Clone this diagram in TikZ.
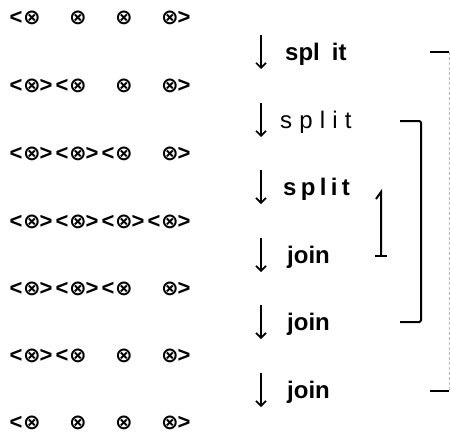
\documentclass[tikz,border=0pt]{standalone}
\usepackage{fontspec}
\setmainfont{Liberation Sans}
\newfontfamily\symfont{DejaVu Sans}
\usetikzlibrary{arrows.meta}

\begin{document}
\begin{tikzpicture}[x=1pt, y=-1pt,
term/.style={inner sep=0pt, font=\symfont\bfseries\fontsize{21}{21}\selectfont},
brk/.style={inner sep=0pt, font=\bfseries\fontsize{22}{22}\selectfont},
oplabel/.style={anchor=base west, inner sep=0pt, font=\fontsize{24}{24}\selectfont},
flow/.style={line width=1.6pt, -{Straight Barb[length=5pt,width=10pt,line width=1.6pt]}},
bracket/.style={line width=2pt, rounded corners=1.5pt},
faint/.style={gray!55, line width=0.7pt, densely dashed},
]
\useasboundingbox (0,0) rectangle (450,434);

%Terms with their brackets
\foreach \y/\ls/\rs [count=\r] in {18/{1}/{4}, 86/{1,2}/{1,4}, 154/{1,2,3}/{1,2,4}, 222/{1,2,3,4}/{1,2,3,4}, 289/{1,2,3}/{1,2,4}, 356/{1,2}/{1,4}, 423/{1}/{4}}{
  \foreach \i in {1,...,4}
    \node[term] (t\r-\i) at (46*\i-14,\y) {⊗};
  \foreach \i in \ls
    \node[brk] (l\r-\i) at ([xshift=-16pt]t\r-\i) {<};
  \foreach \i in \rs
    \node[brk] (g\r-\i) at ([xshift=14pt]t\r-\i) {>};
}

%Steps
\foreach \y/\x/\txt [count=\k] in {52/285/{\bfseries spl\hspace{12pt}it}, 120/280/{\addfontfeature{LetterSpace=30}split}, 187/283/{\bfseries\addfontfeature{LetterSpace=18}split}, 255/287/{\bfseries join}, 322/287/{\bfseries join}, 390/287/{\bfseries join}}{
  \coordinate (a\k) at (261,\y-17);
  \coordinate (b\k) at (261,\y+17);
  \draw[flow] (a\k) -- (b\k);
  \node[oplabel] (op\k) at (\x,\y+8) {\txt};
}

%Brackets
\coordinate (it) at (381,192);
\coordinate (ib) at (381,256);
\draw[bracket, rounded corners=0pt] ([shift={(-5,7)}]it) -- (it) -- (ib);
\draw[bracket] ([xshift=-6pt]ib) -- ([xshift=6pt]ib);

\coordinate (mt) at (400,121);
\coordinate (mb) at (400,322);
\draw[bracket] (mt) -- +(21,0) |- (mb);

\coordinate (ot) at (430,52);
\coordinate (ob) at (430,391);
\draw[bracket] (ot) -- +(19,0);
\draw[bracket] (ob) -- +(19,0);
\draw[faint] ([xshift=19pt]ot) -- ([xshift=19pt]ob);
\end{tikzpicture}
\end{document}
